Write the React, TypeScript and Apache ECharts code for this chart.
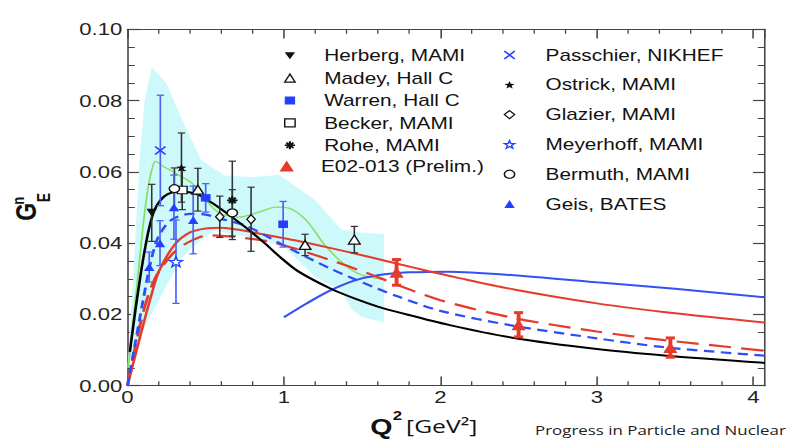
import React, { useEffect, useRef } from "react";
import * as echarts from "echarts";

// The reference is horizontally stretched; draw at a narrower width and stretch.
const STRETCH = 1.2995;
const INNER_W = 611;
const INNER_H = 439;

// ---- axes ----
const xMajorTicks = [0, 1, 2, 3, 4];
const xTickLabels = ["0", "1", "2", "3", "4"];
const xMinorTicks = [0.2, 0.4, 0.6, 0.8, 1.2, 1.4, 1.6, 1.8, 2.2, 2.4, 2.6, 2.8, 3.2, 3.4, 3.6, 3.8];
const yTickLabels = ["0.00", "0.02", "0.04", "0.06", "0.08", "0.10"];

// ---- theory band (cyan) ----
const bandUpper = [
  [0.0, 0.005], [0.03, 0.025], [0.06, 0.05], [0.08, 0.065], [0.11, 0.08], [0.155, 0.0895],
  [0.25, 0.0848], [0.34, 0.0755], [0.47, 0.0634], [0.62, 0.059], [0.8, 0.0585], [0.97, 0.0592],
  [1.2, 0.052], [1.37, 0.0437], [1.5, 0.043], [1.64, 0.0425],
];
const bandLower = [
  [1.64, 0.0177], [1.5, 0.0192], [1.43, 0.0215], [1.36, 0.027], [1.2, 0.0305], [1.0, 0.039],
  [0.8, 0.0415], [0.55, 0.0435], [0.42, 0.039], [0.336, 0.0352], [0.2, 0.024], [0.1, 0.0155],
  [0.037, 0.01], [0.0, 0.005],
];

// ---- theory curves ----
const greenCurve = [
  [0.005, 0.005], [0.06, 0.028], [0.1, 0.045], [0.13, 0.055], [0.155, 0.0605], [0.18, 0.063],
  [0.22, 0.0618], [0.3, 0.0598], [0.41, 0.0569], [0.5, 0.0521], [0.59, 0.0484], [0.71, 0.0473],
  [0.84, 0.0487], [0.95, 0.0501], [1.03, 0.0498], [1.14, 0.0465], [1.27, 0.039], [1.4, 0.0335],
  [1.5, 0.031], [1.65, 0.0298],
];
const blackCurve = [
  [0.015, 0.0095], [0.05, 0.021], [0.08, 0.03], [0.11, 0.038], [0.14, 0.0445], [0.17, 0.049],
  [0.21, 0.052], [0.26, 0.0538], [0.33, 0.0545], [0.394, 0.0543], [0.458, 0.0535], [0.54, 0.0513],
  [0.668, 0.0473], [0.776, 0.0437], [0.884, 0.0397], [0.986, 0.0357], [1.094, 0.032], [1.3, 0.0272],
  [1.45, 0.0245], [1.6, 0.0222], [1.74, 0.0205], [2.06, 0.017], [2.47, 0.0134], [3.0, 0.0103],
  [3.43, 0.0085], [4.075, 0.0064],
];
const redSolidCurve = [
  [0.0, 0.0], [0.05, 0.0085], [0.1, 0.017], [0.15, 0.025], [0.2, 0.032], [0.3, 0.0395],
  [0.4, 0.043], [0.5, 0.0441], [0.6, 0.0443], [0.7, 0.0438], [0.9, 0.0422], [1.07, 0.0408],
  [1.3, 0.0386], [1.5, 0.0366], [1.7, 0.0345], [1.92, 0.0322], [2.1, 0.0304], [2.47, 0.027],
  [3.0, 0.0231], [3.5, 0.0203], [4.075, 0.0177],
];
const redDashedCurve = [
  [0.0, 0.0], [0.05, 0.011], [0.1, 0.0205], [0.15, 0.0275], [0.2, 0.032], [0.3, 0.0375],
  [0.4, 0.0405], [0.52, 0.0422], [0.67, 0.0418], [0.9, 0.0405], [1.09, 0.0382], [1.3, 0.0352],
  [1.52, 0.0318], [1.73, 0.0282], [2.0, 0.024], [2.47, 0.019], [3.0, 0.0152], [3.43, 0.0128],
  [4.075, 0.0098],
];
const blueDashedCurve = [
  [0.0, 0.0], [0.05, 0.012], [0.1, 0.024], [0.15, 0.035], [0.2, 0.042], [0.28, 0.0465],
  [0.4, 0.0482], [0.5, 0.048], [0.6, 0.0468], [0.75, 0.045], [0.88, 0.0422], [1.0, 0.0393],
  [1.3, 0.0328], [1.6, 0.0272], [1.73, 0.025], [2.0, 0.021], [2.47, 0.0168], [3.0, 0.0133],
  [3.43, 0.0108], [4.075, 0.0084],
];
const blueSolidCurve = [
  [1.0, 0.0192], [1.15, 0.0232], [1.3, 0.0268], [1.45, 0.0295], [1.6, 0.031], [1.8, 0.0318],
  [2.05, 0.032], [2.47, 0.031], [3.0, 0.029], [3.5, 0.0272], [4.075, 0.0248],
];

// ---- measurements: [Q2, GEn, error] ----
const herberg = [[0.155, 0.0485, 0.008]];
const madey = [[0.45, 0.055, 0.006], [1.135, 0.0395, 0.003], [1.45, 0.041, 0.0037]];
const warren = [[0.5, 0.0527, 0.004], [0.995, 0.0453, 0.0064]];
const becker = [[0.35, 0.0549, 0.0055]];
const rohe = [[0.67, 0.052, 0.011]];
const e02013 = [[1.72, 0.0318, 0.0036], [2.5, 0.0171, 0.0034], [3.47, 0.0107, 0.0027]];
const passchier = [[0.21, 0.066, 0.0155]];
const ostrick = [[0.345, 0.0612, 0.0097]];
const glazier = [[0.59, 0.0474, 0.0058], [0.79, 0.0467, 0.009]];
const meyerhoff = [[0.31, 0.0348, 0.0117]];
const bermuth = [[0.3, 0.0553, 0.0058], [0.67, 0.0485, 0.0065]];
const geis = [[0.139, 0.0333, 0.0042], [0.208, 0.04, 0.0063], [0.297, 0.0501, 0.009], [0.42, 0.0465, 0.0095]];

const BLACK = "#111111";
const BLUE = "#2440ff";
const BLUE_BAR = "#4f63f2";
const RED = "#e63b2c";
const AXIS = "#444444";

const STAR = "path://M5,0L6.18,3.38L9.76,3.45L6.9,5.62L7.94,9.05L5,7L2.06,9.05L3.1,5.62L0.24,3.45L3.82,3.38Z";
const CROSS = "path://M0,0L10,10M10,0L0,10";
const ASTER = "path://M5,0L5,10M0,5L10,5M1.6,1.6L8.4,8.4M8.4,1.6L1.6,8.4";
const DOWN_TRI = "path://M0,0L10,0L5,8.66Z";

const markerSets = [
  { name: "Herberg, MAMI", data: herberg, symbol: DOWN_TRI, size: 8, fill: BLACK, stroke: BLACK, bw: 0, bar: "#333", barW: 1.2, cap: 2.8 },
  { name: "Madey, Hall C", data: madey, symbol: "triangle", size: 9, fill: "#fff", stroke: BLACK, bw: 1.2, bar: "#333", barW: 1.2, cap: 2.8 },
  { name: "Warren, Hall C", data: warren, symbol: "rect", size: 7.5, fill: BLUE, stroke: BLUE, bw: 0, bar: BLUE_BAR, barW: 1.3, cap: 2.8 },
  { name: "Becker, MAMI", data: becker, symbol: "rect", size: 7.5, fill: "#fff", stroke: BLACK, bw: 1.1, bar: "#333", barW: 1.2, cap: 2.8 },
  { name: "Rohe, MAMI", data: rohe, symbol: ASTER, size: 8, fill: "none", stroke: BLACK, bw: 1.6, bar: "#333", barW: 1.2, cap: 2.8 },
  { name: "E02-013 (Prelim.)", data: e02013, symbol: "triangle", size: 11, fill: RED, stroke: RED, bw: 0, bar: RED, barW: 3, cap: 3.5 },
  { name: "Passchier, NIKHEF", data: passchier, symbol: CROSS, size: 8, fill: "none", stroke: BLUE, bw: 1.4, bar: BLUE_BAR, barW: 1.3, cap: 2.8 },
  { name: "Ostrick, MAMI", data: ostrick, symbol: STAR, size: 8, fill: BLACK, stroke: BLACK, bw: 0, bar: "#333", barW: 1.2, cap: 2.8 },
  { name: "Glazier, MAMI", data: glazier, symbol: "diamond", size: [6.5, 9], fill: "#fff", stroke: BLACK, bw: 1.1, bar: "#333", barW: 1.2, cap: 2.8 },
  { name: "Meyerhoff, MAMI", data: meyerhoff, symbol: STAR, size: 10, fill: "#fff", stroke: BLUE, bw: 1.2, bar: BLUE_BAR, barW: 1.3, cap: 2.8 },
  { name: "Bermuth, MAMI", data: bermuth, symbol: "circle", size: 8, fill: "#fff", stroke: BLACK, bw: 1.2, bar: "#333", barW: 1.2, cap: 2.8 },
  { name: "Geis, BATES", data: geis, symbol: "triangle", size: 8, fill: BLUE, stroke: BLUE, bw: 0, bar: BLUE_BAR, barW: 1.3, cap: 2.8 },
];

const curveSeries = (name: string, data: number[][], color: string, width: number, type: any, z: number) => ({
  name,
  type: "line",
  data,
  showSymbol: false,
  symbol: "none",
  smooth: 0.3,
  lineStyle: { color, width, type },
  silent: true,
  z,
});

const errorBarSeries = (set: any) => ({
  name: "err " + set.name,
  type: "custom",
  coordinateSystem: "cartesian2d",
  xAxisIndex: 0,
  yAxisIndex: 0,
  silent: true,
  z: 5,
  data: set.data,
  encode: { x: 0, y: 1 },
  renderItem: (params: any, api: any) => {
    const x = api.value(0);
    const y = api.value(1);
    const e = api.value(2);
    const t = api.coord([x, y + e]);
    const b = api.coord([x, y - e]);
    const style = { stroke: set.bar, lineWidth: set.barW, fill: "none" };
    const c = set.cap;
    return {
      type: "group",
      children: [
        { type: "line", shape: { x1: t[0], y1: t[1], x2: b[0], y2: b[1] }, style },
        { type: "line", shape: { x1: t[0] - c, y1: t[1], x2: t[0] + c, y2: t[1] }, style },
        { type: "line", shape: { x1: b[0] - c, y1: b[1], x2: b[0] + c, y2: b[1] }, style },
      ],
    };
  },
});

const scatterSeries = (set: any) => ({
  name: set.name,
  type: "scatter",
  data: set.data.map((d: number[]) => [d[0], d[1]]),
  symbol: set.symbol,
  symbolSize: set.size,
  itemStyle: { color: set.fill, borderColor: set.stroke, borderWidth: set.bw, opacity: 1 },
  silent: true,
  z: 6,
});

const bandSeries = {
  name: "band",
  type: "custom",
  coordinateSystem: "cartesian2d",
  xAxisIndex: 0,
  yAxisIndex: 0,
  silent: true,
  z: 1,
  data: [[0, 0]],
  renderItem: (params: any, api: any) => {
    const pts = bandUpper.concat(bandLower).map((p) => api.coord(p));
    return { type: "polygon", shape: { points: pts }, style: { fill: "#cdf9fb", stroke: "none" } };
  },
};

const minorTickSeries = {
  name: "xminor",
  type: "custom",
  coordinateSystem: "cartesian2d",
  xAxisIndex: 0,
  yAxisIndex: 0,
  silent: true,
  clip: false,
  z: 10,
  data: xMinorTicks.map((v) => [v, 0]),
  renderItem: (params: any, api: any) => {
    const x = api.value(0);
    const b = api.coord([x, 0]);
    const t = api.coord([x, 0.1]);
    const style = { stroke: AXIS, lineWidth: 1, fill: "none" };
    return {
      type: "group",
      children: [
        { type: "line", shape: { x1: b[0], y1: b[1], x2: b[0], y2: b[1] - 4.5 }, style },
        { type: "line", shape: { x1: t[0], y1: t[1], x2: t[0], y2: t[1] + 4.5 }, style },
      ],
    };
  },
};

const axisLine = { show: true, onZero: false, lineStyle: { color: AXIS, width: 1.2 } };
const labelFont = { fontSize: 17, fontFamily: "Liberation Sans", color: "#222" };

const xFormatter = (v: number) => {
  const i = xMajorTicks.indexOf(Math.round(v * 1000) / 1000);
  return i >= 0 ? xTickLabels[i] : "";
};
const yFormatter = (v: number) => {
  const i = Math.round(v / 0.02);
  return Math.abs(v - i * 0.02) < 1e-9 && yTickLabels[i] ? yTickLabels[i] : "";
};

const xAxisBase = {
  type: "value",
  min: 0,
  max: 4.075,
  interval: 1,
  axisLine,
  axisTick: { show: true, inside: true, length: 9.3, lineStyle: { color: AXIS, width: 1.2 } },
  minorTick: { show: false },
  splitLine: { show: false },
};
const yAxisBase = {
  type: "value",
  min: 0,
  max: 0.1,
  interval: 0.02,
  axisLine,
  axisTick: { show: true, inside: true, length: 9.2, lineStyle: { color: AXIS, width: 1.2 } },
  minorTick: { show: true, splitNumber: 4, length: 5.6, lineStyle: { color: AXIS, width: 1 } },
  splitLine: { show: false },
  minorSplitLine: { show: false },
};

const legendText = { fontSize: 16, fontFamily: "Liberation Sans", color: "#111" };
const legendItem = (s: any) => ({
  name: s.name,
  icon: s.symbol,
  itemStyle: { color: s.fill, borderColor: s.stroke, borderWidth: s.bw, opacity: 1 },
});

const option: any = {
  animation: false,
  textStyle: { fontFamily: "Liberation Sans" },
  grid: { left: 98.1, right: 22.3, top: 29.3, bottom: 53.3, containLabel: false, outerBoundsMode: "none" },
  xAxis: [
    { ...xAxisBase, position: "bottom", axisLabel: { show: true, margin: 3, showMaxLabel: false, ...labelFont, formatter: xFormatter } },
    { ...xAxisBase, position: "top", axisLabel: { show: false } },
  ],
  yAxis: [
    { ...yAxisBase, position: "left", axisLabel: { show: true, margin: 4, ...labelFont, formatter: yFormatter } },
    { ...yAxisBase, position: "right", axisLabel: { show: false } },
  ],
  legend: [
    {
      data: markerSets.slice(0, 5).map(legendItem),
      orient: "vertical", left: 216.6, top: 44.5, itemWidth: 8, itemHeight: 8, itemGap: 0, padding: 0,
      selectedMode: false, textStyle: { ...legendText, lineHeight: 22.4, padding: [0, 0, 0, 17.4] },
    },
    {
      data: [legendItem(markerSets[5])],
      orient: "vertical", left: 215.1, top: 154.8, itemWidth: 11, itemHeight: 11, itemGap: 0, padding: 0,
      selectedMode: false, textStyle: { ...legendText, lineHeight: 22.4, padding: [0, 0, 0, 15.9] },
    },
    {
      data: markerSets.slice(6).map(legendItem),
      orient: "vertical", left: 385.6, top: 40.1, itemWidth: 8, itemHeight: 8, itemGap: 0, padding: 0,
      selectedMode: false, textStyle: { ...legendText, lineHeight: 29.8, padding: [0, 0, 0, 18.7] },
    },
  ],
  graphic: [
    { type: "text", x: 20.3, y: 211.7, rotation: Math.PI / 2, silent: true,
      style: { text: "G", font: 'bold 23px "Liberation Sans"', fill: BLACK, textAlign: "center", textVerticalAlign: "middle", align: "center", verticalAlign: "middle" } },
    { type: "text", x: 13.5, y: 200.8, rotation: Math.PI / 2, silent: true,
      style: { text: "n", font: 'bold 13px "Liberation Sans"', fill: BLACK, textAlign: "center", textVerticalAlign: "middle", align: "center", verticalAlign: "middle" } },
    { type: "text", x: 33.3, y: 197.5, rotation: Math.PI / 2, silent: true,
      style: { text: "E", font: 'bold 14px "Liberation Sans"', fill: BLACK, textAlign: "center", textVerticalAlign: "middle", align: "center", verticalAlign: "middle" } },
    { type: "text", x: 285, y: 426, silent: true,
      style: { text: "Q", font: 'bold 22px "Liberation Sans"', fill: BLACK, textAlign: "left", textVerticalAlign: "middle", align: "left", verticalAlign: "middle" } },
    { type: "text", x: 302.3, y: 415.5, silent: true,
      style: { text: "2", font: 'bold 13px "Liberation Sans"', fill: BLACK, textAlign: "left", textVerticalAlign: "middle", align: "left", verticalAlign: "middle" } },
    { type: "text", x: 312.5, y: 425.5, silent: true,
      style: { text: "[GeV²]", font: '19px "Open Sans"', fill: BLACK, textAlign: "left", textVerticalAlign: "middle", align: "left", verticalAlign: "middle" } },
    { type: "text", x: 411.7, y: 429.5, silent: true,
      style: { text: "Progress in Particle and Nuclear", font: '13px "Open Sans"', fill: "#222", textAlign: "left", textVerticalAlign: "middle", align: "left", verticalAlign: "middle" } },
  ],
  series: [
    bandSeries,
    curveSeries("green", greenCurve, "#86df5c", 1.3, "solid", 2),
    curveSeries("blueSolid", blueSolidCurve, "#3452f2", 2, "solid", 2),
    curveSeries("redSolid", redSolidCurve, RED, 2, "solid", 2),
    curveSeries("redDashed", redDashedCurve, RED, 2.2, [17, 8], 2),
    curveSeries("blueDashed", blueDashedCurve, "#2f4df5", 2.2, [8, 5], 2),
    curveSeries("black", blackCurve, "#000", 2, "solid", 3),
    ...markerSets.map(errorBarSeries),
    ...markerSets.map(scatterSeries),
    minorTickSeries,
  ],
};

export default function App() {
  const ref = useRef<HTMLDivElement>(null);
  useEffect(() => {
    if (!ref.current) return;
    const chart = echarts.init(ref.current, null, { renderer: "svg" });
    chart.setOption(option);
    return () => chart.dispose();
  }, []);
  return (
    <div
      ref={ref}
      style={{
        position: "fixed",
        left: 0,
        top: 0,
        width: INNER_W,
        height: INNER_H,
        transform: `scaleX(${STRETCH})`,
        transformOrigin: "0 0",
        background: "#fff",
      }}
    />
  );
}
